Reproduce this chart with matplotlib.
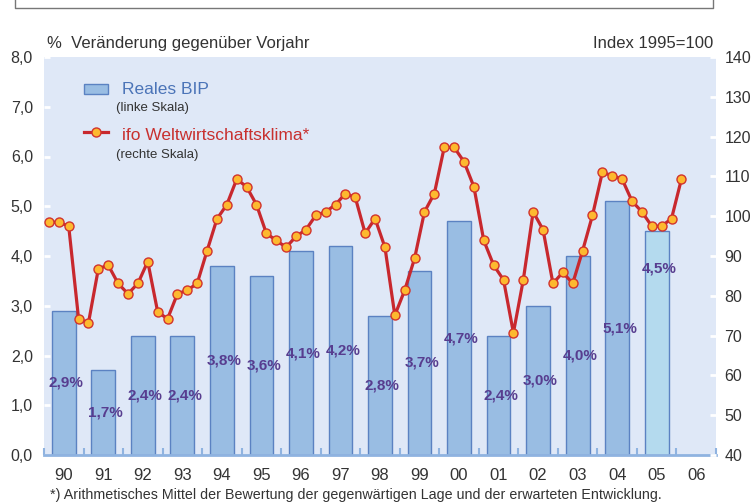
import matplotlib.pyplot as plt
import numpy as np
from matplotlib.lines import Line2D
from matplotlib.patches import Rectangle

plt.rcParams['font.family'] = ['Liberation Sans', 'DejaVu Sans']

# Data
years = ['90', '91', '92', '93', '94', '95', '96', '97', '98', '99',
         '00', '01', '02', '03', '04', '05', '06']
bip = [2.9, 1.7, 2.4, 2.4, 3.8, 3.6, 4.1, 4.2, 2.8, 3.7, 4.7, 2.4, 3.0, 4.0, 5.1, 4.5]
bip_labels = ['2,9%', '1,7%', '2,4%', '2,4%', '3,8%', '3,6%', '4,1%', '4,2%', '2,8%',
              '3,7%', '4,7%', '2,4%', '3,0%', '4,0%', '5,1%', '4,5%']
# ifo Weltwirtschaftsklima, quarterly, 1990 Q1 - 2006 Q1
ifo = [98.5, 98.5, 97.5, 74.2,
       73.2, 86.8, 87.7, 83.1,
       80.5, 83.1, 88.6, 76.0,
       74.2, 80.5, 81.4, 83.1,
       91.3, 99.3, 102.9, 109.3,
       107.4, 102.9, 95.7, 93.9,
       92.2, 94.9, 96.6, 100.2,
       101.1, 102.9, 105.7, 104.7,
       95.7, 99.4, 92.2, 75.1,
       81.4, 89.4, 101.1, 105.7,
       117.3, 117.3, 113.7, 107.4,
       93.9, 87.7, 84.0, 70.7,
       84.0, 101.1, 96.6, 83.1,
       85.9, 83.1, 91.3, 100.2,
       111.0, 110.2, 109.3, 103.8,
       101.1, 97.5, 97.5, 99.4,
       109.3]

W, H = 754, 504
fig = plt.figure(figsize=(W / 100, H / 100), dpi=100)
ax = fig.add_axes([44 / W, 1 - 455 / H, 672 / W, 398 / H])
ax.set_facecolor('#dfe8f7')

bar_colors = ['#99bde3'] * (len(bip) - 1) + ['#b4daee']
x = np.arange(len(bip))
ax.bar(x, bip, width=0.6, color=bar_colors, edgecolor='#5b82c2', linewidth=1, zorder=2)

for xi, v, lab in zip(x, bip, bip_labels):
    y = v / 2 if xi < len(bip) - 1 else 3.75  # forecast label sits higher
    ax.text(xi + 0.06, y, lab, ha='center', va='center', fontsize=11,
            fontweight='bold', color='#573d8f', zorder=3)

ax.set_xlim(-0.5, len(years) - 0.5)
ax.set_ylim(0, 8)
ax.set_xticks(np.arange(len(years)))
ax.set_xticklabels(years)
ax.set_xticks(np.arange(-0.5, len(years)), minor=True)
ax.set_yticks(np.arange(0, 8.1, 1))
ax.set_yticklabels([f'{v:.1f}'.replace('.', ',') for v in np.arange(0, 8.1, 1)])
ax.tick_params(axis='x', which='major', length=0, pad=9, labelsize=12, labelcolor='#333333')
ax.tick_params(axis='x', which='minor', direction='in', length=5, width=1.5, color='#8fb3e0')
ax.tick_params(axis='y', direction='in', length=4, width=2, color='white',
               pad=8, labelsize=11.5, labelcolor='#333333')
for s in ['top', 'right', 'left']:
    ax.spines[s].set_visible(False)
ax.spines['bottom'].set_color('#8fb3e0')
ax.spines['bottom'].set_linewidth(2)

ax2 = ax.twinx()
qx = np.arange(len(ifo)) * 0.25 - 0.375
ax2.plot(qx, ifo, color='#c8282e', linewidth=2.3, marker='o', markersize=6.5,
         markerfacecolor='#fdb92f', markeredgecolor='#d2332c', markeredgewidth=1, zorder=4)
ax2.set_ylim(40, 140)
ax2.set_yticks(np.arange(40, 141, 10))
ax2.tick_params(axis='y', direction='in', length=4, width=2, color='white',
                pad=6, labelsize=11.5, labelcolor='#333333')
for s in ax2.spines.values():
    s.set_visible(False)

# legend
def fx(px):
    return px / W

def fy(py):
    return 1 - py / H

fig.patches.append(Rectangle((fx(84), fy(94)), 24 / W, 10 / H, transform=fig.transFigure,
                             facecolor='#99bde3', edgecolor='#5b82c2', linewidth=1))
fig.text(fx(122), fy(94.5), 'Reales BIP', fontsize=12.5, color='#4b74b8', va='baseline')
fig.text(fx(116), fy(111), '(linke Skala)', fontsize=9.5, color='#333333', va='baseline')
fig.lines.append(Line2D([fx(84), fx(108)], [fy(131.5)] * 2, transform=fig.transFigure,
                        color='#c8282e', linewidth=2.3))
fig.lines.append(Line2D([fx(96)], [fy(131.5)], transform=fig.transFigure, marker='o',
                        markersize=6.5, markerfacecolor='#fdb92f', markeredgecolor='#d2332c'))
fig.text(fx(122), fy(140), 'ifo Weltwirtschaftsklima*', fontsize=12.5, color='#c8302f',
         va='baseline')
fig.text(fx(116), fy(158), '(rechte Skala)', fontsize=9.5, color='#333333', va='baseline')

# axis titles and footnote
fig.text(fx(47), fy(48), '%  Veränderung gegenüber Vorjahr', fontsize=12, color='#333333',
         va='baseline')
fig.text(fx(713), fy(48), 'Index 1995=100', fontsize=12, color='#333333', ha='right',
         va='baseline')
fig.text(fx(50), fy(499), '*) Arithmetisches Mittel der Bewertung der gegenwärtigen Lage '
         'und der erwarteten Entwicklung.', fontsize=10.3, color='#333333', va='baseline')

# frame of the box above
fig.lines.append(Line2D([fx(15), fx(15), fx(713), fx(713)], [fy(0), fy(8), fy(8), fy(0)],
                        transform=fig.transFigure, color='#777777', linewidth=1))

fig.savefig('out.png', dpi=100)
